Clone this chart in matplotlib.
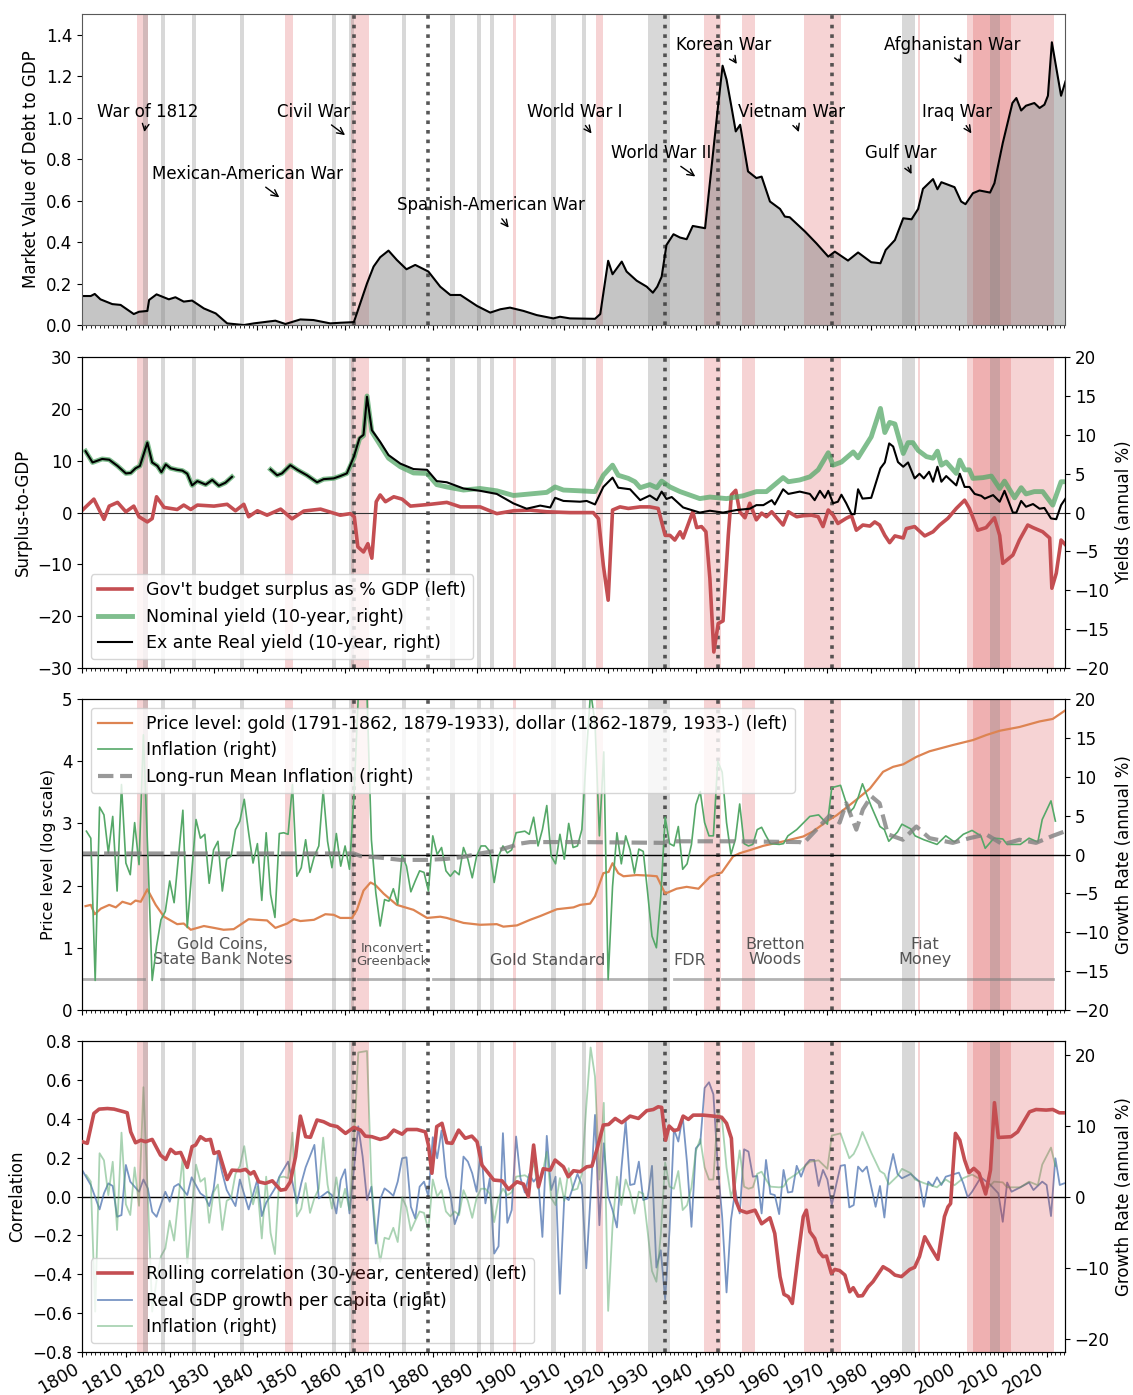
import matplotlib
matplotlib.use('Agg')
import matplotlib.pyplot as plt
from matplotlib.ticker import MultipleLocator

plt.rcParams['font.family'] = ['DejaVu Sans']
plt.rcParams['font.size'] = 12

# ---------------- data ----------------
debt_years = [1800.0, 1802.0, 1802.9, 1804.2, 1806.9, 1808.8, 1811.8, 1813.0, 1814.9, 1815.3, 1817.0, 1819.8,
              1821.3, 1823.2, 1825.1, 1827.8, 1830.5, 1833.1, 1836.9, 1839.2, 1844.1, 1846.4, 1849.8, 1852.8,
              1856.6, 1858.9, 1862.0, 1865.0, 1866.5, 1868.0, 1869.9, 1871.8, 1874.0, 1876.0, 1879.0, 1881.7,
              1884.0, 1886.3, 1890.1, 1893.1, 1895.4, 1897.6, 1900.7, 1903.7, 1907.5, 1909.0, 1911.3, 1917.0,
              1918.2, 1920.0, 1921.0, 1923.1, 1924.2, 1926.5, 1928.8, 1930.2, 1931.2, 1932.2, 1933.3, 1934.9,
              1936.4, 1937.9, 1939.3, 1942.1, 1944.0, 1945.1, 1946.1, 1947.0, 1948.1, 1949.1, 1950.1, 1951.9,
              1953.8, 1955.0, 1956.9, 1959.2, 1960.3, 1961.4, 1964.9, 1967.5, 1970.2, 1971.7, 1974.7, 1977.0,
              1980.0, 1982.1, 1983.3, 1985.4, 1987.3, 1989.2, 1990.7, 1991.8, 1994.1, 1995.1, 1996.0, 1999.0,
              2000.5, 2001.5, 2003.2, 2004.7, 2007.1, 2008.1, 2010.0, 2012.2, 2013.1, 2014.2, 2015.3, 2017.2,
              2018.4, 2019.5, 2020.3, 2021.2, 2023.3, 2024.3]
debt_vals = [0.140, 0.140, 0.150, 0.124, 0.101, 0.097, 0.053, 0.064, 0.068, 0.121, 0.148, 0.124,
             0.134, 0.113, 0.118, 0.080, 0.056, 0.008, 0.000, 0.008, 0.021, 0.005, 0.027, 0.024,
             0.008, 0.011, 0.014, 0.201, 0.282, 0.327, 0.359, 0.314, 0.269, 0.290, 0.258, 0.185,
             0.145, 0.145, 0.092, 0.060, 0.076, 0.084, 0.068, 0.048, 0.032, 0.040, 0.032, 0.030,
             0.053, 0.310, 0.245, 0.306, 0.258, 0.214, 0.185, 0.156, 0.185, 0.233, 0.386, 0.438,
             0.422, 0.414, 0.478, 0.467, 0.845, 1.063, 1.251, 1.184, 1.055, 0.934, 0.966, 0.741,
             0.709, 0.716, 0.596, 0.560, 0.523, 0.520, 0.451, 0.394, 0.330, 0.354, 0.311, 0.350,
             0.303, 0.298, 0.362, 0.410, 0.515, 0.510, 0.560, 0.657, 0.704, 0.655, 0.689, 0.665,
             0.596, 0.583, 0.636, 0.649, 0.639, 0.684, 0.878, 1.071, 1.095, 1.035, 1.058, 1.071,
             1.047, 1.063, 1.106, 1.364, 1.106, 1.175]

surplus_years = [1800.1, 1802.7, 1805.0, 1806.2, 1808.1, 1810.0, 1811.8, 1813.0, 1814.9, 1816.0, 1817.0, 1818.7,
                 1821.7, 1823.2, 1824.8, 1826.3, 1830.1, 1833.1, 1835.0, 1836.9, 1838.0, 1840.0, 1842.2, 1845.3,
                 1847.9, 1850.6, 1854.4, 1858.9, 1861.2, 1862.1, 1862.9, 1864.2, 1865.2, 1866.1, 1867.1, 1868.0,
                 1869.2, 1871.1, 1873.0, 1874.9, 1879.4, 1883.2, 1886.3, 1890.8, 1894.6, 1898.4, 1902.2, 1906.0,
                 1911.3, 1916.6, 1917.8, 1918.9, 1920.0, 1921.0, 1922.7, 1924.6, 1927.3, 1929.5, 1931.4, 1933.0,
                 1934.1, 1935.2, 1936.4, 1937.1, 1939.3, 1940.2, 1941.3, 1942.3, 1943.2, 1944.1, 1945.1, 1946.2,
                 1947.4, 1948.1, 1949.1, 1950.0, 1951.2, 1952.3, 1953.8, 1955.0, 1956.1, 1957.3, 1959.9, 1961.1,
                 1963.0, 1964.5, 1966.4, 1967.9, 1969.0, 1970.2, 1971.3, 1972.4, 1974.3, 1975.5, 1976.6, 1978.1,
                 1979.7, 1980.8, 1981.9, 1983.1, 1984.2, 1985.4, 1987.3, 1988.0, 1989.9, 1992.2, 1994.1, 1995.6,
                 1997.5, 1999.4, 2001.3, 2002.4, 2004.3, 2006.2, 2008.1, 2009.3, 2010.0, 2012.3, 2013.8, 2015.7,
                 2016.9, 2019.1, 2020.7, 2021.2, 2022.2, 2023.3, 2024.3]
surplus_vals = [0.48, 2.6, -1.3, 1.25, 1.97, 0.16, 1.25, -0.8, -1.8, -1.15, 3.05, 1.0,
                0.6, 1.45, 0.6, 1.45, 1.25, 1.6, 0.35, 1.6, -0.8, 0.35, -0.5, 0.67,
                -1.2, 0.3, 0.67, -0.5, -0.2, -0.8, -6.6, -7.6, -6.0, -8.8, 2.1, 3.4,
                2.1, 3.05, 2.6, 1.25, 1.6, 1.97, 1.1, 1.1, -0.2, 0.35, 0.48, 0.16,
                0.0, 0.0, -1.2, -10.2, -16.9, 0.5, 1.1, 0.8, 1.1, 1.1, 0.8, -4.4,
                -4.4, -5.3, -3.7, -4.9, 0.16, -2.9, -2.7, -3.7, -12.7, -26.9, -21.4, -20.9,
                -4.4, 3.4, 4.3, 0.16, -1.0, 1.8, -1.4, -0.1, -0.8, 0.16, -2.4, 0.16,
                -0.8, -0.6, -0.5, -0.8, -2.7, 0.5, -0.5, -2.1, -1.1, -0.6, -3.4, -2.4,
                -2.6, -1.8, -2.4, -4.4, -5.8, -4.5, -4.9, -3.1, -2.7, -4.5, -3.7, -2.4,
                -1.1, 0.8, 2.4, 0.8, -3.4, -2.9, -1.0, -4.4, -9.8, -8.2, -5.3, -2.4,
                -2.9, -3.7, -4.9, -14.6, -11.7, -5.3, -6.2]

# nominal yield; None marks the gap in the record (1835-1842)
nominal_years = [1800.8, 1802.4, 1804.6, 1806.2, 1808.1, 1810.0, 1811.1, 1812.2, 1813.2, 1814.9, 1816.0, 1817.2,
                 1818.1, 1819.1, 1820.2, 1821.7, 1822.9, 1824.0, 1825.1, 1826.3, 1828.2, 1829.7, 1831.2, 1832.7,
                 1834.2, 1838.0, 1843.0, 1844.5, 1845.6, 1847.5, 1849.1, 1851.3, 1853.6, 1855.1, 1857.4, 1858.9,
                 1860.4, 1862.0, 1863.3, 1864.2, 1865.0, 1866.1, 1868.0, 1869.9, 1872.6, 1875.6, 1878.7, 1880.9,
                 1883.2, 1887.0, 1890.8, 1894.6, 1898.4, 1902.2, 1906.0, 1907.9, 1909.8, 1913.6, 1917.0, 1918.9,
                 1921.0, 1922.3, 1924.6, 1926.1, 1927.3, 1929.5, 1931.1, 1932.2, 1934.1, 1936.4, 1940.9, 1943.2,
                 1947.0, 1950.8, 1953.8, 1956.1, 1959.9, 1961.1, 1963.7, 1966.0, 1967.9, 1970.2, 1971.3, 1973.2,
                 1975.9, 1977.0, 1980.0, 1982.1, 1983.1, 1984.2, 1985.4, 1987.3, 1988.4, 1989.5, 1990.7, 1992.6,
                 1994.1, 1995.1, 1996.0, 1997.1, 1999.4, 2000.2, 2001.3, 2002.4, 2003.2, 2005.5, 2007.4, 2009.3,
                 2010.4, 2012.7, 2014.2, 2015.3, 2017.2, 2019.1, 2021.4, 2023.3, 2024.3]
nominal_vals = [7.9, 6.45, 6.9, 6.8, 6.0, 5.04, 5.1, 5.7, 6.0, 9.0, 6.45, 6.0,
                5.2, 6.2, 5.7, 5.5, 5.4, 5.0, 3.5, 4.05, 3.6, 4.2, 3.45, 3.84,
                4.6, None, 5.55, 4.8, 5.04, 6.1, 5.5, 4.8, 3.9, 4.3, 4.4, 4.7,
                5.04, 7.0, 9.5, 9.9, 15.0, 10.4, 8.7, 7.0, 5.9, 5.1, 5.04, 3.6,
                3.3, 2.9, 3.1, 2.8, 2.2, 2.4, 2.6, 3.3, 2.9, 2.8, 2.7, 4.8,
                6.1, 4.8, 4.4, 3.97, 3.2, 3.6, 3.2, 4.05, 3.3, 2.7, 1.8, 2.0,
                1.8, 2.16, 2.7, 2.7, 4.5, 3.97, 4.2, 4.6, 5.5, 7.7, 6.1, 6.5,
                7.8, 7.05, 9.75, 13.4, 10.3, 11.6, 11.4, 7.6, 9.0, 9.0, 8.0, 7.2,
                7.0, 7.9, 6.1, 6.5, 5.04, 6.75, 5.5, 5.5, 4.4, 4.5, 4.7, 3.1,
                4.05, 1.9, 3.2, 2.4, 2.7, 2.7, 0.96, 3.97, 3.97]

real_years = [1800.8, 1802.4, 1804.6, 1806.2, 1808.1, 1810.0, 1811.1, 1812.2, 1813.2, 1814.9, 1816.0, 1817.2,
              1818.1, 1819.1, 1820.2, 1821.7, 1822.9, 1824.0, 1825.1, 1826.3, 1828.2, 1829.7, 1831.2, 1832.7,
              1834.2, 1838.0, 1843.0, 1844.5, 1845.6, 1847.5, 1849.1, 1851.3, 1853.6, 1855.1, 1857.4, 1858.9,
              1860.4, 1862.0, 1863.3, 1864.2, 1865.0, 1866.1, 1868.0, 1869.9, 1872.6, 1875.6, 1878.7, 1880.9,
              1883.2, 1887.0, 1890.8, 1894.6, 1898.4, 1901.4, 1904.5, 1906.8, 1907.9, 1909.8, 1913.6, 1915.1,
              1917.0, 1918.9, 1921.0, 1922.3, 1925.0, 1927.3, 1929.5, 1931.1, 1932.2, 1933.3, 1934.5, 1937.1,
              1940.9, 1943.2, 1946.2, 1949.3, 1952.3, 1953.8, 1955.4, 1957.3, 1958.0, 1959.9, 1961.1, 1963.7,
              1966.0, 1967.1, 1968.3, 1969.4, 1970.2, 1971.3, 1972.4, 1973.2, 1974.3, 1975.5, 1976.2, 1977.0,
              1978.0, 1980.0, 1982.1, 1983.1, 1984.1, 1985.0, 1986.1, 1987.3, 1988.4, 1989.9, 1991.0, 1992.0,
              1993.2, 1994.1, 1995.1, 1996.0, 1997.1, 1999.4, 2000.2, 2001.3, 2002.4, 2003.6, 2005.1, 2005.9,
              2007.8, 2009.3, 2010.4, 2012.3, 2013.1, 2014.2, 2015.3, 2016.9, 2018.4, 2019.5, 2021.0, 2022.2,
              2023.3, 2024.3]
real_vals = [7.9, 6.45, 6.9, 6.8, 6.0, 5.04, 5.1, 5.7, 6.0, 9.0, 6.45, 6.0,
             5.2, 6.2, 5.7, 5.5, 5.4, 5.0, 3.5, 4.05, 3.6, 4.2, 3.45, 3.84,
             4.6, None, 5.55, 4.8, 5.04, 6.1, 5.5, 4.8, 3.9, 4.3, 4.4, 4.7,
             5.04, 7.2, 9.6, 10.0, 14.9, 10.6, 9.1, 7.4, 6.3, 5.6, 5.5, 4.05,
             3.9, 3.1, 2.8, 2.4, 1.18, 0.5, 0.9, 0.66, 1.9, 1.5, 1.4, 1.5,
             1.05, 3.3, 4.5, 3.2, 3.0, 1.6, 2.2, 1.6, 2.7, 1.75, 2.0, 0.66,
             0.0, 0.24, 0.0, 0.33, 0.5, 0.96, 0.96, 1.6, 1.05, 3.0, 2.4, 2.7,
             2.4, 1.6, 2.8, 1.9, 2.8, 1.2, 1.4, 2.3, 1.2, -0.2, -0.2, 3.0,
             1.8, 1.9, 5.7, 6.45, 8.9, 8.5, 6.5, 5.9, 6.45, 4.4, 5.0, 4.4,
             5.25, 3.97, 5.9, 3.97, 4.7, 3.5, 5.0, 3.3, 3.3, 2.4, 2.16, 1.8,
             2.25, 1.4, 2.8, 0.0, 0.0, 1.5, 0.75, 1.1, 0.5, 0.6, -0.75, -0.85,
             0.96, 1.8]

price_years = [1800.8, 1802.0, 1802.9, 1804.3, 1806.2, 1807.7, 1809.2, 1811.1, 1812.2, 1813.4, 1814.9, 1816.8,
               1818.7, 1821.7, 1823.2, 1824.8, 1827.8, 1830.1, 1832.3, 1834.6, 1836.1, 1838.0, 1839.9, 1842.2,
               1844.1, 1846.8, 1848.3, 1849.8, 1852.9, 1855.5, 1857.4, 1858.9, 1861.6, 1862.7, 1864.2, 1865.8,
               1866.9, 1868.8, 1871.8, 1875.6, 1878.7, 1881.7, 1883.2, 1887.0, 1890.8, 1894.6, 1896.1, 1899.2,
               1902.2, 1904.5, 1908.3, 1912.1, 1913.6, 1915.9, 1917.0, 1918.9, 1920.1, 1921.0, 1922.3, 1923.5,
               1926.5, 1929.5, 1931.1, 1933.0, 1935.6, 1937.9, 1940.6, 1943.2, 1945.9, 1948.5, 1950.0, 1952.3,
               1955.4, 1959.9, 1964.5, 1966.7, 1970.2, 1972.1, 1976.6, 1979.7, 1982.7, 1985.0, 1987.3, 1990.3,
               1993.3, 1998.6, 2003.2, 2006.2, 2009.3, 2013.8, 2018.4, 2021.4, 2024.1]
price_vals = [1.67, 1.69, 1.54, 1.63, 1.69, 1.65, 1.74, 1.70, 1.76, 1.74, 1.94, 1.69,
              1.50, 1.38, 1.39, 1.29, 1.35, 1.32, 1.29, 1.30, 1.37, 1.46, 1.45, 1.44,
              1.32, 1.39, 1.46, 1.43, 1.45, 1.54, 1.53, 1.48, 1.48, 1.61, 1.92, 2.05,
              2.01, 1.87, 1.69, 1.61, 1.48, 1.50, 1.48, 1.40, 1.37, 1.38, 1.34, 1.36,
              1.45, 1.51, 1.62, 1.65, 1.69, 1.71, 1.83, 2.20, 2.22, 2.36, 2.20, 2.15,
              2.17, 2.16, 2.15, 1.87, 1.95, 1.98, 1.95, 2.14, 2.21, 2.47, 2.52, 2.57,
              2.64, 2.71, 2.79, 2.87, 3.05, 3.13, 3.38, 3.56, 3.83, 3.91, 3.95, 4.07,
              4.16, 4.26, 4.34, 4.42, 4.49, 4.55, 4.64, 4.68, 4.81]

infl_years = [1801, 1802, 1803, 1804, 1805, 1806, 1807, 1808, 1809, 1810, 1811, 1812, 1813, 1814, 1815, 1816,
              1817, 1818, 1819, 1820, 1821, 1823, 1824, 1826, 1827, 1828, 1829, 1830, 1831, 1832, 1833, 1834,
              1835, 1836, 1837, 1838, 1839, 1840, 1841, 1842, 1843, 1844, 1845, 1846, 1847, 1848, 1849, 1850,
              1851, 1852, 1853, 1854, 1855, 1856, 1857, 1858, 1859, 1860, 1861, 1862, 1863, 1864, 1865, 1866,
              1867, 1868, 1869, 1870, 1871, 1872, 1873, 1874, 1875, 1876, 1877, 1878, 1879, 1880, 1881, 1882,
              1883, 1884, 1885, 1886, 1887, 1888, 1889, 1890, 1891, 1892, 1893, 1894, 1895, 1896, 1897, 1898,
              1899, 1901, 1902, 1903, 1904, 1905, 1906, 1907, 1908, 1909, 1910, 1911, 1912, 1913, 1914, 1915,
              1916, 1917, 1918, 1919, 1920, 1921, 1922, 1923, 1924, 1925, 1926, 1927, 1928, 1929, 1930, 1931,
              1932, 1933, 1934, 1935, 1936, 1937, 1938, 1939, 1940, 1941, 1942, 1943, 1944, 1945, 1946, 1947,
              1948, 1949, 1950, 1951, 1952, 1953, 1954, 1955, 1956, 1957, 1959, 1960, 1961, 1963, 1966, 1968,
              1970, 1971, 1973, 1975, 1976, 1977, 1978, 1980, 1982, 1983, 1984, 1986, 1987, 1989, 1990, 1992,
              1993, 1995, 1997, 1999, 2001, 2003, 2005, 2006, 2008, 2010, 2011, 2014, 2016, 2018, 2019, 2021,
              2022, 2023, 2024]
infl_vals = [3.0, 2.1, -16.2, 6.1, 5.1, 0.2, 4.9, -4.7, 9.0, -1.1, -2.6, 4.1, -1.3, 15.4, 0.2, -16.2,
             -11.8, -8.4, -7.3, -3.4, -6.2, 5.7, -9.4, 4.5, 2.1, 2.6, -3.7, 0.6, 1.7, -4.7, -0.6, -0.2,
             3.2, 4.3, 7.1, 2.8, -1.1, 1.4, -5.9, 2.8, -5.1, -8.1, 2.7, 2.8, 2.6, 9.0, -2.8, -1.7,
             1.9, -2.3, -0.2, 1.1, 8.3, 1.7, -1.7, 2.7, -1.5, 1.1, -1.9, 7.3, 20.3, 20.4, 20.5, 1.9,
             -4.9, -9.2, -5.8, -6.0, -4.4, -6.4, -0.1, -1.5, -4.8, -3.4, -2.1, -2.3, -4.7, 2.4, 0.0, 0.9,
             -2.1, -2.8, -2.1, -2.6, 0.9, -0.6, -3.0, -0.2, 1.1, 1.1, 0.4, -3.6, -0.2, 1.1, 0.2, 0.6,
             2.8, 3.0, 2.6, 4.8, 1.1, 3.2, 6.3, -0.2, -1.2, 2.6, -0.6, 4.0, 0.9, 1.1, 3.2, 12.6,
             21.0, 16.9, 2.4, 13.2, -16.1, -4.1, 2.8, -1.2, 2.4, 0.6, -2.4, 0.7, 0.4, -4.9, -10.5, -12.0,
             -5.4, 4.8, 1.4, 1.1, 3.6, -1.9, -1.2, 1.3, 6.4, 8.1, 4.1, 2.4, 2.4, 12.0, 10.6, 4.1,
             0.0, 1.9, 6.5, 1.4, 1.1, 1.3, 3.2, 3.5, 2.4, 1.4, 1.3, 1.4, 2.4, 3.2, 4.9, 5.1,
             3.9, 8.6, 8.9, 5.4, 6.0, 7.3, 9.1, 6.2, 3.6, 3.2, 1.7, 2.9, 3.9, 3.3, 2.4, 1.9,
             1.7, 1.3, 2.4, 1.6, 2.6, 3.1, 2.4, 0.8, 2.1, 2.0, 1.3, 1.3, 2.1, 1.6, 4.5, 6.9, 4.3]
infl_years = infl_years[:len(infl_vals)]

mean_years = [1800.0, 1862.0, 1863.5, 1868.0, 1872.6, 1878.7, 1883.2, 1887.0, 1890.8, 1894.6, 1897.7, 1899.9,
              1902.2, 1913.6, 1932.5, 1933.5, 1949.3, 1963.7, 1964.5, 1967.5, 1970.5, 1972.8, 1974.3, 1976.6,
              1978.1, 1980.0, 1981.9, 1983.8, 1987.2, 1990.3, 1993.3, 1998.6, 2002.4, 2006.2, 2010.0, 2013.8,
              2017.6, 2021.4, 2024.3]
mean_vals = [0.13, 0.13, -0.2, -0.4, -0.69, -0.69, -0.56, -0.3, 0.13, 0.5, 1.0, 1.4,
             1.6, 1.6, 1.5, 1.7, 1.7, 1.6, 1.4, 3.2, 5.0, 4.1, 6.6, 3.2,
             5.8, 7.5, 6.6, 2.6, 1.9, 3.6, 2.1, 1.5, 2.1, 2.6, 1.3, 1.9,
             1.5, 2.4, 3.0]

gdp_years = [1800, 1802, 1804, 1805, 1806, 1807, 1808, 1809, 1810, 1811, 1813, 1814, 1815, 1816, 1817, 1819,
             1820, 1821, 1822, 1824, 1825, 1827, 1828, 1829, 1830, 1831, 1832, 1833, 1835, 1836, 1838, 1840,
             1841, 1842, 1844, 1845, 1847, 1849, 1850, 1851, 1853, 1854, 1856, 1857, 1858, 1859, 1860, 1861,
             1863, 1864, 1865, 1866, 1867, 1868, 1869, 1870, 1871, 1872, 1873, 1874, 1875, 1876, 1877, 1878,
             1879, 1880, 1881, 1882, 1883, 1884, 1885, 1886, 1887, 1888, 1889, 1890, 1891, 1892, 1893, 1894,
             1895, 1896, 1897, 1898, 1899, 1900, 1901, 1902, 1903, 1904, 1905, 1906, 1907, 1908, 1909, 1910,
             1911, 1912, 1913, 1914, 1915, 1916, 1917, 1918, 1919, 1920, 1921, 1922, 1923, 1924, 1925, 1926,
             1927, 1928, 1929, 1930, 1931, 1932, 1933, 1934, 1935, 1936, 1937, 1938, 1939, 1940, 1941, 1942,
             1943, 1944, 1945, 1946, 1947, 1948, 1949, 1950, 1951, 1952, 1953, 1954, 1955, 1956, 1957, 1958,
             1959, 1960, 1961, 1962, 1963, 1964, 1965, 1966, 1967, 1968, 1969, 1970, 1971, 1972, 1973, 1974,
             1975, 1976, 1977, 1978, 1979, 1981, 1982, 1983, 1984, 1985, 1986, 1987, 1989, 1991, 1992, 1993,
             1994, 1995, 1996, 1997, 1999, 2000, 2001, 2002, 2003, 2005, 2007, 2009, 2010, 2011, 2012, 2014,
             2016, 2017, 2019, 2020, 2021, 2022, 2023, 2024]
gdp_vals = [3.75, 1.63, -1.81, 0.45, 1.86, 1.49, -2.85, -2.61, 4.45, 2.1, 0.68, 2.4, 1.15, -2.14, -2.85, 0.68,
            -0.73, 1.39, 1.77, 0.21, 2.71, 0.45, 0.0, -1.34, 1.0, 6.0, 3.27, 0.92, -1.34, 2.4, -1.81, 2.4,
            -2.75, -0.87, 1.15, 2.8, 4.92, -0.96, 1.86, 4.12, 7.28, -0.26, 0.68, 0.21, -2.38, 2.33, 3.84, -2.38,
            9.9, 5.63, -0.49, 1.39, -6.62, -0.4, 1.15, 0.68, 0.1, 2.1, 5.39, 5.53, -1.44, -3.09, 1.39, 2.1,
            0.0, 8.36, 5.39, 9.3, 2.8, 0.45, -3.89, -2.14, 5.63, 4.92, 3.27, 0.68, 7.04, -0.96, 2.57, -8.03,
            -7.0, 8.93, -3.7, -1.9, 8.46, 2.57, 0.57, 3.18, 2.1, 2.9, -5.68, 8.55, 0.92, 2.8, -13.7, 0.0,
            -0.5, 1.39, 3.2, 1.63, -10.1, 0.21, 11.5, -4.03, 7.5, 0.0, -1.9, -4.35, 3.75, 10.6, 1.63, 1.77,
            4.92, -0.49, -0.26, 4.33, -10.0, -7.56, -14.5, -4.73, 9.5, 7.75, 11.3, 4.69, -4.26, 6.8, 7.5, 15.3,
            16.1, 14.4, 4.26, -2.85, -13.5, -3.33, 0.92, -2.38, 6.66, 6.33, 2.8, 2.9, -2.38, 5.16, 0.38, 0.21,
            -2.47, 3.75, 0.57, 0.68, 4.33, 2.8, 4.45, 5.16, 5.16, 1.49, 3.75, 2.4, -1.2, 1.63, 4.33, 4.45,
            -1.53, -1.2, 4.22, 3.51, 4.22, -1.44, 1.49, -2.95, 3.18, 6.0, 3.18, 2.57, 3.18, 2.1, -1.44, 2.1,
            1.49, 2.71, 1.63, 2.8, 3.18, 3.37, 1.86, -0.1, 0.68, 2.71, 1.77, 0.45, -3.56, 1.98, 0.68, 1.3,
            1.98, 0.92, 2.1, 1.63, -2.75, 5.39, 1.63, 1.86]

corr_years = [1800.1, 1801.2, 1802.7, 1803.9, 1805.8, 1807.3, 1809.6, 1810.3, 1811.1, 1812.2, 1813.4, 1814.5,
              1816.0, 1817.9, 1819.1, 1820.2, 1821.3, 1822.5, 1824.0, 1825.1, 1825.9, 1827.0, 1828.2, 1829.3,
              1830.1, 1831.2, 1833.1, 1834.2, 1836.1, 1837.3, 1838.4, 1839.2, 1840.3, 1841.8, 1843.4, 1845.3,
              1846.4, 1847.5, 1848.7, 1849.8, 1851.0, 1852.1, 1853.6, 1855.1, 1856.6, 1858.2, 1860.1, 1862.0,
              1863.5, 1864.6, 1866.1, 1868.0, 1869.6, 1871.1, 1873.0, 1874.1, 1876.4, 1878.3, 1879.0, 1879.8,
              1880.9, 1882.1, 1883.2, 1884.4, 1885.9, 1887.4, 1888.9, 1890.1, 1891.2, 1892.7, 1893.9, 1895.8,
              1897.3, 1899.2, 1900.7, 1901.8, 1903.0, 1904.1, 1905.2, 1906.8, 1907.9, 1909.8, 1910.9, 1912.1,
              1913.6, 1915.1, 1916.3, 1917.4, 1918.9, 1920.1, 1921.6, 1923.1, 1925.0, 1926.9, 1928.8, 1930.3,
              1931.4, 1932.2, 1933.1, 1933.9, 1935.0, 1936.0, 1937.1, 1938.3, 1939.4, 1941.7, 1944.0, 1945.9,
              1947.0, 1948.1, 1948.9, 1950.0, 1951.6, 1953.5, 1955.0, 1956.9, 1958.0, 1959.2, 1960.1, 1961.1,
              1962.0, 1963.3, 1964.5, 1965.2, 1966.0, 1967.1, 1968.1, 1969.0, 1969.8, 1970.9, 1971.7, 1972.8,
              1974.0, 1975.1, 1975.9, 1977.0, 1978.0, 1979.3, 1980.4, 1982.7, 1984.2, 1985.4, 1986.9, 1988.8,
              1989.9, 1991.0, 1992.2, 1993.7, 1995.2, 1996.7, 1997.5, 1998.1, 1999.2, 2000.2, 2001.3, 2002.3,
              2003.4, 2004.6, 2006.1, 2007.2, 2008.1, 2009.0, 2011.9, 2013.4, 2015.0, 2016.1, 2017.6, 2019.9,
              2021.4, 2022.9, 2024.3]
corr_vals = [0.282, 0.274, 0.428, 0.450, 0.453, 0.450, 0.436, 0.431, 0.333, 0.277, 0.290, 0.282,
             0.294, 0.213, 0.191, 0.243, 0.222, 0.227, 0.150, 0.257, 0.265, 0.308, 0.290, 0.294,
             0.222, 0.231, 0.088, 0.136, 0.133, 0.140, 0.116, 0.128, 0.076, 0.068, 0.081, 0.033,
             0.037, 0.076, 0.205, 0.414, 0.308, 0.305, 0.394, 0.385, 0.368, 0.360, 0.325, 0.356,
             0.342, 0.311, 0.308, 0.294, 0.305, 0.342, 0.321, 0.345, 0.345, 0.333, 0.265, 0.120,
             0.360, 0.377, 0.277, 0.274, 0.342, 0.300, 0.311, 0.282, 0.162, 0.120, 0.085, 0.081,
             0.037, 0.076, 0.064, 0.000, 0.265, 0.050, 0.143, 0.136, 0.188, 0.153, 0.102, 0.133,
             0.128, 0.153, 0.157, 0.240, 0.368, 0.371, 0.402, 0.380, 0.414, 0.402, 0.442, 0.448,
             0.462, 0.459, 0.290, 0.363, 0.339, 0.345, 0.414, 0.397, 0.419, 0.419, 0.414, 0.408,
             0.377, 0.300, -0.009, -0.070, -0.083, -0.070, -0.140, -0.109, -0.190, -0.412, -0.503, -0.515,
             -0.550, -0.309, -0.103, -0.070, -0.181, -0.215, -0.284, -0.309, -0.306, -0.395, -0.375, -0.381,
             -0.404, -0.490, -0.469, -0.512, -0.510, -0.464, -0.438, -0.361, -0.381, -0.404, -0.412, -0.375,
             -0.364, -0.309, -0.207, -0.267, -0.323, -0.103, -0.053, -0.036, 0.325, 0.290, 0.188, 0.123,
             0.145, 0.120, 0.013, 0.137, 0.483, 0.304, 0.308, 0.333, 0.394, 0.436, 0.448, 0.445,
             0.448, 0.431, 0.431]

war_spans = [(1812.45, 1815.15), (1846.3, 1848.1), (1861.3, 1865.35), (1898.3, 1898.95), (1917.3, 1918.9),
             (1941.9, 1945.7), (1950.5, 1953.6), (1964.6, 1973.2), (1990.6, 1991.2), (2001.75, 2021.7),
             (2003.2, 2011.95)]
crisis_spans = [(1814, 1815), (1818, 1819), (1825, 1826), (1836, 1837), (1857, 1858), (1861, 1862), (1873, 1874),
                (1884, 1885), (1890, 1891), (1893, 1894), (1907, 1908), (1914, 1915), (1929, 1934),
                (1987, 1990), (2007, 2009.3)]
regime_lines = [1862, 1879, 1933, 1945, 1971]

war_names = ['War of 1812', 'Mexican-American War', 'Civil War', 'Spanish-American War', 'World War I',
             'World War II', 'Korean War', 'Vietnam War', 'Gulf War', 'Afghanistan War', 'Iraq War']
war_text_xy = [(1815.0, 1.03), (1837.8, 0.73), (1852.8, 1.03), (1893.3, 0.58), (1912.4, 1.03),
               (1932.2, 0.83), (1946.4, 1.352), (1961.8, 1.03), (1986.7, 0.83), (1998.4, 1.352), (1999.5, 1.03)]
war_tip_xy = [(1814.1, 0.918), (1845.5, 0.608), (1860.5, 0.908), (1897.7, 0.459), (1916.6, 0.913),
              (1940.4, 0.709), (1949.7, 1.248), (1963.7, 0.918), (1989.5, 0.716), (2000.8, 1.248), (2003.2, 0.913)]

regime_labels = ['Gold Coins,\nState Bank Notes', 'Inconvert\nGreenback', 'Gold Standard', 'FDR',
                 'Bretton\nWoods', 'Fiat\nMoney']
regime_label_xy = [(1832.0, 0.93), (1870.7, 0.89), (1906.1, 0.79), (1938.6, 0.79), (1958.0, 0.93), (1992.2, 0.93)]
regime_label_size = [11.5, 9.5, 11.5, 11.5, 11.5, 11.5]
regime_segments = [(1800, 1814.1), (1817.9, 1861.2), (1863.0, 1878.7), (1880.0, 1932.2), (1935.0, 1943.2),
                   (1945.9, 1970.4), (1973.2, 2021.4)]

# ---------------- figure ----------------
RED = '#C44E52'
GREEN = '#55A868'
BLUE = '#4C72B0'
ORANGE = '#DD8452'
LEG_FS = 12.5

fig = plt.figure(figsize=(11.33, 13.95), dpi=100)
L, W = 0.0724, 0.8676
H = 0.2229
ax1 = fig.add_axes([L, 0.7670, W, H])
ax2 = fig.add_axes([L, 0.5211, W, H])
ax3 = fig.add_axes([L, 0.2760, W, H])
ax4 = fig.add_axes([L, 0.0308, W, H])
XMIN, XMAX = 1800, 2024.2


def shade(ax):
    for a, b in war_spans:
        ax.axvspan(a, b, color='tab:red', alpha=0.2, lw=0, zorder=0.5)
    for a, b in crisis_spans:
        ax.axvspan(a, b, color='gray', alpha=0.3, lw=0, zorder=0.5)
    for x in regime_lines:
        ax.axvline(x, color='#3a3a3a', ls=':', lw=2.6, alpha=0.85, zorder=1.5)


def xfmt(ax, labels):
    ax.set_xlim(XMIN, XMAX)
    ax.xaxis.set_major_locator(MultipleLocator(10))
    ax.xaxis.set_minor_locator(MultipleLocator(1))
    ax.tick_params(axis='x', which='minor', length=2.5)
    if labels:
        ax.tick_params(axis='x', labelsize=12.5, pad=2)
        plt.setp(ax.get_xticklabels(), rotation=30, ha='right')
    else:
        ax.tick_params(axis='x', labelbottom=False)


# Panel 1 -- debt
ax1.fill_between(debt_years, debt_vals, 0, color='gray', alpha=0.45, lw=0, zorder=1)
ax1.plot(debt_years, debt_vals, color='black', lw=1.5, zorder=2)
shade(ax1)
ax1.set_ylim(0, 1.5)
ax1.yaxis.set_major_locator(MultipleLocator(0.2))
ax1.set_ylabel('Market Value of Debt to GDP')
for s in ax1.spines.values():
    s.set_color('0.35')
for name, txy, pxy in zip(war_names, war_text_xy, war_tip_xy):
    ax1.annotate(name, xy=pxy, xytext=txy, ha='center', va='center', fontsize=12,
                 arrowprops=dict(arrowstyle='->', color='black', lw=1), zorder=5)
xfmt(ax1, False)

# Panel 2 -- surplus and yields
shade(ax2)
ax2.axhline(0, color='#333333', lw=0.8, zorder=1)
l1, = ax2.plot(surplus_years, surplus_vals, color=RED, lw=2.6, zorder=3,
               label="Gov't budget surplus as % GDP (left)")
ax2.set_ylim(-30, 30)
ax2.yaxis.set_major_locator(MultipleLocator(10))
ax2.set_ylabel('Surplus-to-GDP')
ax2r = ax2.twinx()
nom_y = [float('nan') if v is None else v for v in nominal_vals]
real_y = [float('nan') if v is None else v for v in real_vals]
l2, = ax2r.plot(nominal_years, nom_y, color=GREEN, alpha=0.75, lw=3.5, label='Nominal yield (10-year, right)')
l3, = ax2r.plot(real_years, real_y, color='black', lw=1.5, label='Ex ante Real yield (10-year, right)')
ax2r.set_ylim(-20, 20)
ax2r.yaxis.set_major_locator(MultipleLocator(5))
ax2r.set_ylabel('Yields (annual %)')
ax2r.legend(handles=[l1, l2, l3], loc='lower left', fontsize=LEG_FS)
xfmt(ax2, False)

# Panel 3 -- price level and inflation
shade(ax3)
p1, = ax3.plot(price_years, price_vals, color=ORANGE, lw=1.6, zorder=3,
               label='Price level: gold (1791-1862, 1879-1933), dollar (1862-1879, 1933-) (left)')
for a, b in regime_segments:
    ax3.plot([a, b], [0.5, 0.5], color='gray', alpha=0.6, lw=2, zorder=2)
for t, (x, y), fs in zip(regime_labels, regime_label_xy, regime_label_size):
    ax3.text(x, y, t, ha='center', va='center', fontsize=fs, color='#444444', alpha=0.9, linespacing=1.0)
ax3.set_ylim(0, 5)
ax3.yaxis.set_major_locator(MultipleLocator(1))
ax3.set_ylabel('Price level (log scale)', fontsize=11.5)
ax3r = ax3.twinx()
ax3r.axhline(0, color='black', lw=1)
p2, = ax3r.plot(infl_years, infl_vals, color=GREEN, lw=1.2, label='Inflation (right)')
p3, = ax3r.plot(mean_years, mean_vals, color='gray', ls='--', lw=3, alpha=0.8, label='Long-run Mean Inflation (right)')
ax3r.set_ylim(-20, 20)
ax3r.yaxis.set_major_locator(MultipleLocator(5))
ax3r.set_ylabel('Growth Rate (annual %)')
ax3r.legend(handles=[p1, p2, p3], loc='upper left', fontsize=LEG_FS)
xfmt(ax3, False)

# Panel 4 -- correlation
shade(ax4)
c1, = ax4.plot(corr_years, corr_vals, color=RED, lw=2.6, zorder=3, label='Rolling correlation (30-year, centered) (left)')
ax4.set_ylim(-0.8, 0.8)
ax4.yaxis.set_major_locator(MultipleLocator(0.2))
ax4.set_ylabel('Correlation')
ax4r = ax4.twinx()
ax4r.axhline(0, color='black', lw=1)
c2, = ax4r.plot(gdp_years, gdp_vals, color=BLUE, alpha=0.75, lw=1.3, label='Real GDP growth per capita (right)')
c3, = ax4r.plot(infl_years, infl_vals, color=GREEN, alpha=0.5, lw=1.3, label='Inflation (right)')
ax4r.set_ylim(-21.9, 21.9)
ax4r.yaxis.set_major_locator(MultipleLocator(10))
ax4r.set_ylabel('Growth Rate (annual %)')
ax4r.legend(handles=[c1, c2, c3], loc='lower left', fontsize=LEG_FS)
ax4.set_zorder(ax4r.get_zorder() + 1)
ax4.patch.set_visible(False)
xfmt(ax4, True)

fig.savefig('out.png', dpi=100)
